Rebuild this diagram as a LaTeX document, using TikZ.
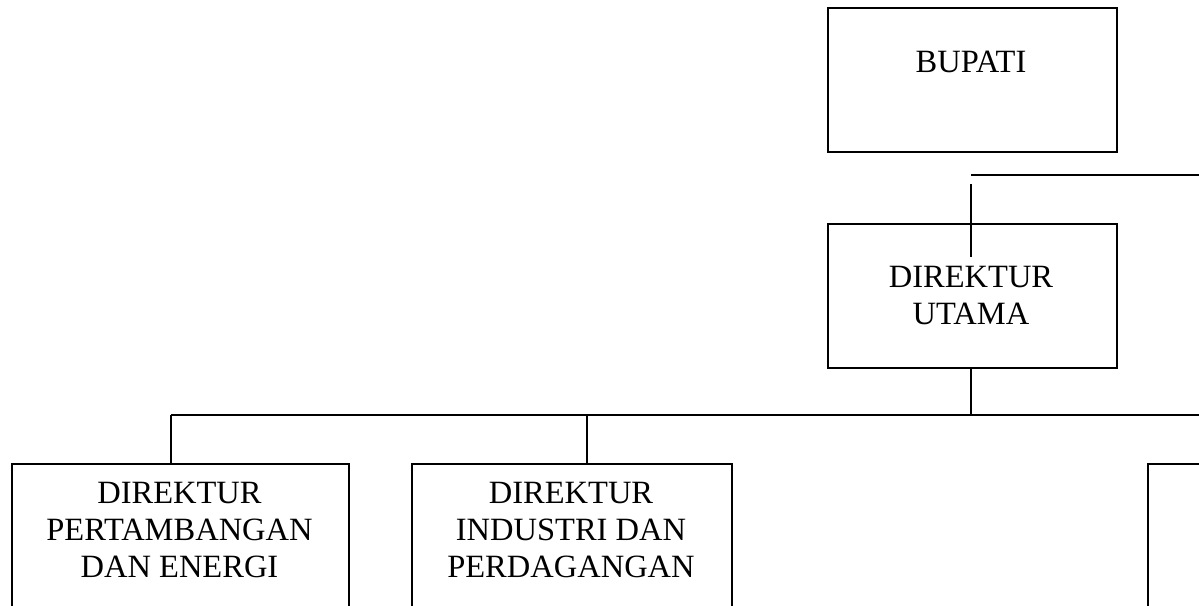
\documentclass[tikz,border=0pt]{standalone}
\usepackage{fontspec}
\setmainfont{Liberation Serif}
\tikzset{
  box/.style={draw=black, line width=1.6pt, fill=none, inner sep=0pt, anchor=north west},
  lbl/.style={align=center, inner sep=0pt, anchor=base, font=\fontsize{32.5}{37}\selectfont},
  conn/.style={draw=black, line width=1.6pt}
}
\begin{document}
\begin{tikzpicture}[x=1pt,y=1pt]
\clip (0,0) rectangle (1199,-605);
\fill[white] (0,0) rectangle (1199,-605);
% boxes
\node[box, minimum width=289pt, minimum height=144pt] (bupati) at (827,-7) {};
\node[box, minimum width=289pt, minimum height=144pt] (utama) at (827,-223) {};
\node[box, minimum width=337pt, minimum height=200pt] (tambang) at (11,-463) {};
\node[box, minimum width=320pt, minimum height=200pt] (industri) at (411,-463) {};
\node[box, minimum width=200pt, minimum height=200pt] (kanan) at (1147,-463) {};
% labels
\node[lbl] (tbupati) at (971,-72) {BUPATI};
\node[lbl] (tutama) at (971,-324) {DIREKTUR\\UTAMA};
\node[lbl] (ttambang) at (179.5,-577) {DIREKTUR\\PERTAMBANGAN\\DAN ENERGI};
\node[lbl] (tindustri) at (571,-577) {DIREKTUR\\INDUSTRI DAN\\PERDAGANGAN};
% connectors
\coordinate (h1a) at (971,-175);
\coordinate (h1b) at (1199,-175);
\coordinate (v1a) at (971,-184);
\coordinate (v1b) at (971,-257);
\draw[conn] (h1a) -- (h1b);
\draw[conn] (v1a) -- (v1b);
\coordinate (busL) at (171,-415);
\coordinate (busR) at (1199,-415);
\coordinate (busM) at (971,-415);
\coordinate (busI) at (587,-415);
\draw[conn] (utama.south -| busM) -- (busM);
\draw[conn] (busL) -- (busR);
\draw[conn] (busL) -- (tambang.north -| busL);
\draw[conn] (busI) -- (industri.north -| busI);
\end{tikzpicture}
\end{document}
